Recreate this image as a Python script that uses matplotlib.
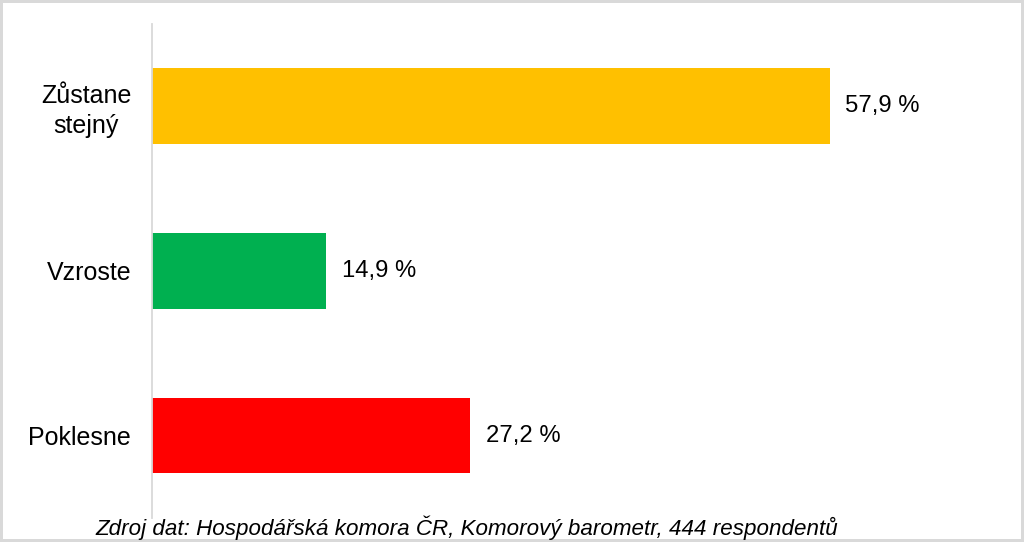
import matplotlib.pyplot as plt

plt.rcParams['font.family'] = ['Liberation Sans', 'DejaVu Sans']

# Data
categories = ["Poklesne", "Vzroste", "Zůstane\nstejný"]
values = [27.2, 14.9, 57.9]
colors = ["#FF0000", "#00B050", "#FFC000"]
source = "Zdroj dat: Hospodářská komora ČR, Komorový barometr, 444 respondentů"

fig = plt.figure(figsize=(10.24, 5.42), dpi=100)
fig.patch.set_edgecolor("#d9d9d9")
fig.patch.set_linewidth(3)
ax = fig.add_axes([0.1484, 0.0443, 0.828, 0.9123])

pos = range(len(categories))
ax.barh(pos, values, height=0.46, color=colors)

for p, v in zip(pos, values):
    ax.text(v + 1.3, p, f"{v:.1f} %".replace(".", ","), va="center", ha="left", fontsize=17.2)

ax.set_yticks(list(pos))
ax.set_yticklabels(categories, fontsize=18, multialignment="center", linespacing=1.3)
ax.tick_params(axis="y", length=0, pad=15)
ax.set_xticks([])
ax.set_xlim(0, 72.4)
ax.set_ylim(-0.5, 2.5)

for s in ["top", "right", "bottom"]:
    ax.spines[s].set_visible(False)
ax.spines["left"].set_color("#d9d9d9")
ax.spines["left"].set_linewidth(1.3)

fig.text(0.4556, 0.027, source, ha="center", va="center", fontsize=16.1, style="italic")

fig.savefig("out.png", dpi=100)
